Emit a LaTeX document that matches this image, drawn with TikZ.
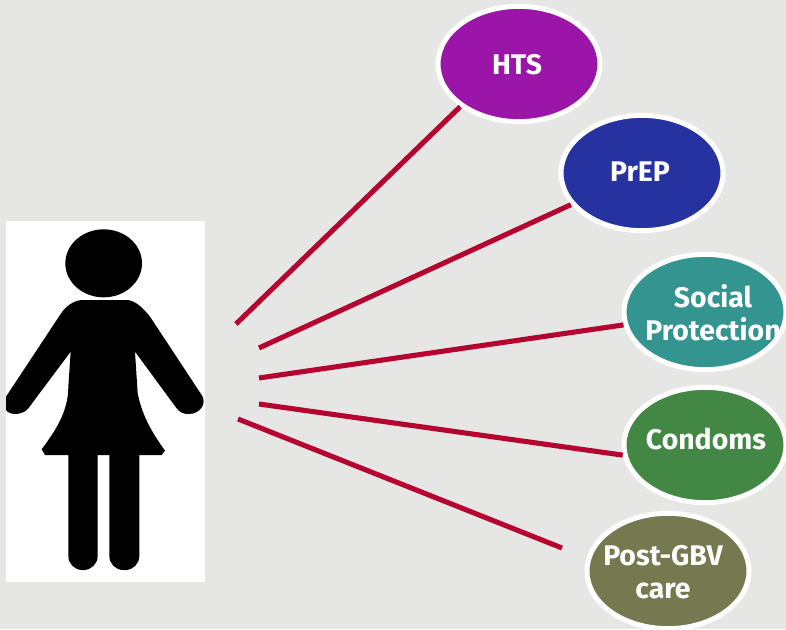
\documentclass[tikz,border=0pt]{standalone}
\usepackage{fontspec}
\setmainfont{Fira Sans}
\definecolor{bgc}{HTML}{E6E6E4}
\definecolor{linkc}{HTML}{B5042F}
\definecolor{htsc}{HTML}{9B16A8}
\definecolor{prepc}{HTML}{2632A0}
\definecolor{socc}{HTML}{339490}
\definecolor{conc}{HTML}{428844}
\definecolor{postc}{HTML}{767850}
\usetikzlibrary{shapes.geometric}
\tikzset{
  x=0.75pt,y=-0.75pt,
  svc/.style={ellipse,draw=white,line width=3.75pt,inner sep=0pt,minimum width=121.5pt,minimum height=86.5pt},
  lbl/.style={text=white,font=\fontsize{21.3}{25.5}\selectfont\bfseries,align=center,inner sep=0pt},
  link/.style={draw=linkc,line width=3.8pt},
}
\begin{document}
\begin{tikzpicture}
\useasboundingbox (0,0) rectangle (786,629);
\clip (0,0) rectangle (786,629);
\fill[bgc] (0,0) rectangle (786,629);
% figure
\fill[white] (6,221) rectangle (205,582);
\begin{scope}[shift={(0,210)},x=0.25pt,y=-0.25pt]
  \fill[black] (311,160) ellipse [x radius=115,y radius=102];
  \fill[black,rounded corners=10.5pt] (205,640) rectangle (293,1080);
  \fill[black,rounded corners=10.5pt] (328,640) rectangle (418,1080);
  \fill[black] (245,270) -- (385,270) .. controls (410,275) and (430,295) .. (450,320)
    -- (605,555) .. controls (622,580) and (600,612) .. (567,612)
    .. controls (550,612) and (540,608) .. (530,595)
    -- (405,425) -- (413,550) .. controls (425,610) and (450,660) .. (495,722)
    -- (485,735) -- (135,735) -- (125,718)
    .. controls (160,670) and (205,610) .. (205,530) -- (212,425)
    -- (85,595) .. controls (70,615) and (30,618) .. (18,600) -- (18,560)
    -- (180,315) .. controls (195,290) and (220,272) .. (245,270) -- cycle;
\end{scope}
% connectors' free ends
\coordinate (s1) at (236,324);
\coordinate (s2) at (259,348);
\coordinate (s3) at (259,378);
\coordinate (s4) at (259,404);
\coordinate (s5) at (238,419);
\coordinate (e5) at (562,548);
% ellipses
\node[svc,fill=htsc] (hts) at (519,64) {};
\node[svc,fill=prepc] (prep) at (642,173) {};
\node[svc,fill=socc] (soc) at (705,312) {};
\node[svc,fill=conc] (con) at (705,445) {};
\node[svc,fill=postc] (post) at (668,571) {};
\node[lbl] (htst) at (517,65) {HTS};
\node[lbl] (prept) at (640,172) {PrEP};
\node[lbl] (soct) at (713,313) {Social\\[-1pt]Protection};
\node[lbl] (cont) at (706,439) {Condoms};
\node[lbl] (postt) at (663,572) {Post-GBV\\[-1pt]care};
% connectors
\draw[link] (s1) -- (hts.216.5);
\draw[link] (s2) -- (prep.204.6);
\draw[link] (s3) -- (soc.189.8);
\draw[link] (s4) -- (con.187);
\draw[link] (s5) -- (e5);
\end{tikzpicture}
\end{document}
